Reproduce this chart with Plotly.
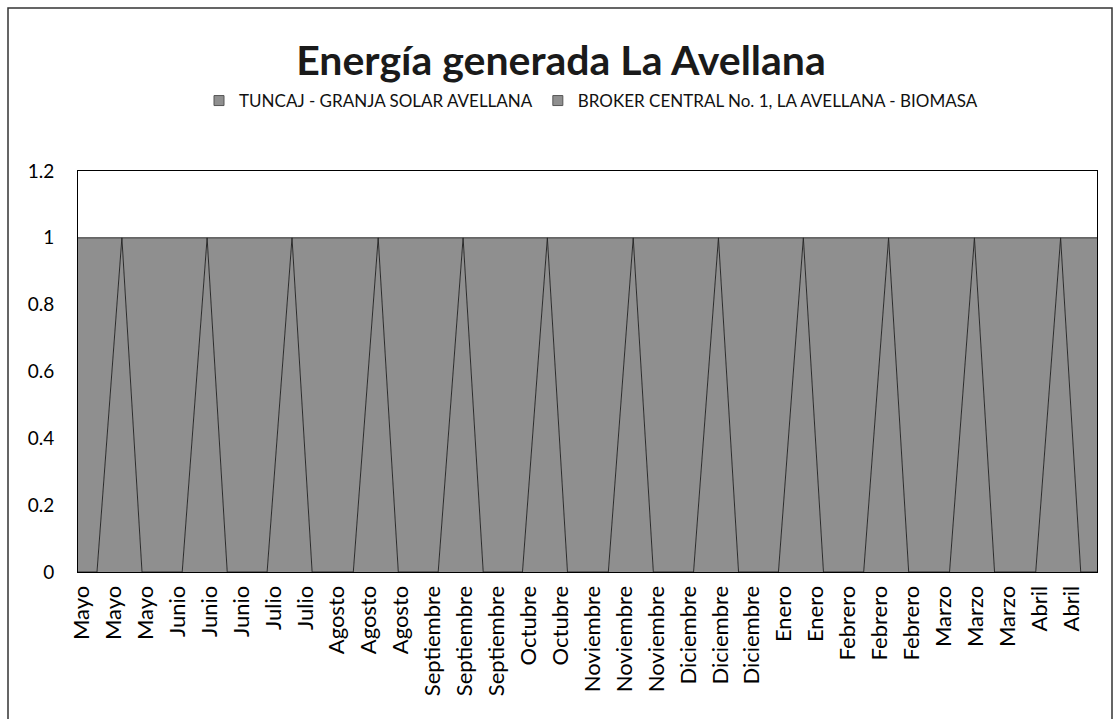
import plotly.graph_objects as go

# Category labels shown on the x axis (one label per position)
labels = ["Mayo", "Mayo", "Mayo", "Junio", "Junio", "Junio", "Julio", "Julio",
          "Agosto", "Agosto", "Agosto", "Septiembre", "Septiembre", "Septiembre",
          "Octubre", "Octubre", "Noviembre", "Noviembre", "Noviembre",
          "Diciembre", "Diciembre", "Diciembre", "Enero", "Enero",
          "Febrero", "Febrero", "Febrero", "Marzo", "Marzo", "Marzo", "Abril", "Abril"]

# Sample positions (in label units) and share of each source
x_pos = [-0.125,
         0.47, 1.25, 1.88,
         3.14, 3.92, 4.55,
         5.80, 6.58, 7.21,
         8.50, 9.28, 9.91,
         11.16, 11.94, 12.57,
         13.80, 14.58, 15.21,
         16.49, 17.27, 17.90,
         19.16, 19.94, 20.57,
         21.82, 22.60, 23.23,
         24.49, 25.27, 25.90,
         27.18, 27.96, 28.59,
         29.88, 30.66, 31.29,
         31.80]
tuncaj = [0,
          0, 1, 0,
          0, 1, 0,
          0, 1, 0,
          0, 1, 0,
          0, 1, 0,
          0, 1, 0,
          0, 1, 0,
          0, 1, 0,
          0, 1, 0,
          0, 1, 0,
          0, 1, 0,
          0, 1, 0,
          0]
broker = [1 - v for v in tuncaj]

series_names = ["TUNCAJ - GRANJA SOLAR AVELLANA",
                "BROKER CENTRAL No. 1, LA AVELLANA - BIOMASA"]

FILL = "#8f8f8f"
LINE = "#2a2a2a"
FONT = "Lato"

fig = go.Figure()
for name, vals in zip(series_names, [tuncaj, broker]):
    fig.add_trace(go.Scatter(
        x=x_pos, y=vals, name=name, mode="lines", stackgroup="one",
        fillcolor=FILL, line=dict(color=LINE, width=1), showlegend=False))
# legend entries drawn as small squares
for name in series_names:
    fig.add_trace(go.Scatter(
        x=[None], y=[None], name=name, mode="markers",
        marker=dict(symbol="square", size=10, color=FILL,
                    line=dict(color="#555555", width=1))))

fig.update_layout(
    width=1117, height=719,
    margin=dict(l=78, r=20, t=171, b=147),
    paper_bgcolor="white", plot_bgcolor="white",
    font=dict(family=FONT, color="black", size=16),
    title=dict(text="<b>Energía generada La Avellana</b>", x=561 / 1117, xanchor="center",
               y=1 - 61 / 719, yanchor="middle",
               font=dict(family=FONT, size=41, color="#1a1a1a")),
    legend=dict(orientation="h", x=(199 - 78) / 1019, xanchor="left",
                y=(572 - 101) / 401, yanchor="middle",
                font=dict(family=FONT, size=17, color="#111111"),
                itemwidth=30, traceorder="normal"),
    showlegend=True,
)
fig.update_xaxes(
    range=[-0.125, 31.8], tickmode="array",
    tickvals=list(range(len(labels))), ticktext=labels,
    tickangle=-90, tickfont=dict(family=FONT, size=22, color="black"),
    showgrid=False, zeroline=False, showline=True, linecolor="black", linewidth=1,
    mirror=True, ticks="", ticklabelstandoff=4)
fig.update_yaxes(
    range=[0, 1.2], dtick=0.2, tickfont=dict(family=FONT, size=19, color="black"),
    showgrid=False, zeroline=False, showline=True, linecolor="black", linewidth=1,
    mirror=True, ticks="", ticklabelstandoff=19)

# outer chart frame
fig.add_shape(type="rect", xref="paper", yref="paper",
              x0=(8 - 78) / 1019, x1=(1112 - 78) / 1019,
              y0=(572 - 725) / 401, y1=(572 - 8) / 401,
              line=dict(color="#333333", width=1.5), fillcolor="rgba(0,0,0,0)", layer="below")

fig.write_html("out.html", config={"displayModeBar": False},
               post_script="document.body.style.margin='0';")
